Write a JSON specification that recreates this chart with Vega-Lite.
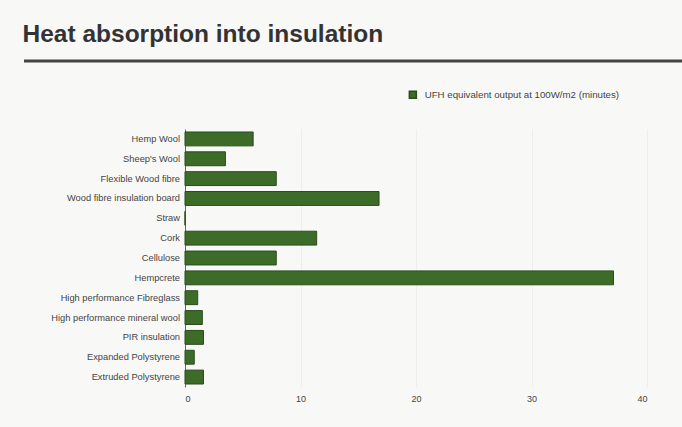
{
  "$schema": "https://vega.github.io/schema/vega-lite/v6.json",
  "background": "#f8f8f7",
  "padding": {"left": 22, "top": 22, "right": 0, "bottom": 30},
  "title": {
    "text": "Heat absorption into insulation",
    "anchor": "start",
    "font": "Liberation Sans Narrow, Liberation Sans, sans-serif",
    "fontSize": 24.5,
    "fontWeight": "bold",
    "color": "#333333",
    "offset": 12,
    "dx": 0
  },
  "datasets": {
    "materials": [
      {"material": "Hemp Wool", "minutes": 5.9},
      {"material": "Sheep's Wool", "minutes": 3.5},
      {"material": "Flexible Wood fibre", "minutes": 7.9},
      {"material": "Wood fibre insulation board", "minutes": 16.8},
      {"material": "Straw", "minutes": 0},
      {"material": "Cork", "minutes": 11.4},
      {"material": "Cellulose", "minutes": 7.9},
      {"material": "Hempcrete", "minutes": 37.1},
      {"material": "High performance Fibreglass", "minutes": 1.1},
      {"material": "High performance mineral wool", "minutes": 1.5},
      {"material": "PIR insulation", "minutes": 1.6},
      {"material": "Expanded Polystyrene", "minutes": 0.8},
      {"material": "Extruded Polystyrene", "minutes": 1.6}
    ]
  },
  "spacing": 27,
  "config": {"view": {"stroke": null}},
  "resolve": {"scale": {"color": "independent"}, "legend": {"color": "independent"}},
  "vconcat": [
    {
      "width": 660,
      "height": 1,
      "data": {"values": [{"v": 1}]},
      "mark": {"type": "rule", "color": "#444444", "strokeWidth": 3},
      "encoding": {
        "y": {"field": "v", "type": "quantitative", "scale": {"domain": [0, 1]}, "axis": null}
      }
    },
    {
      "spacing": 4,
      "resolve": {"scale": {"color": "independent"}, "legend": {"color": "independent"}},
      "hconcat": [
        {
          "width": 156,
          "height": 258,
          "data": {"name": "materials"},
          "mark": {"type": "text", "align": "right", "baseline": "middle",
                   "font": "Liberation Sans, sans-serif", "fontSize": 9.3, "color": "#444444"},
          "encoding": {
            "y": {"field": "material", "type": "nominal", "sort": null,
                  "scale": {"paddingInner": 0.3, "paddingOuter": 0.15}, "axis": null},
            "x": {"datum": 1, "type": "quantitative", "scale": {"domain": [0, 1]}, "axis": null},
            "text": {"field": "material", "type": "nominal"}
          }
        },
        {
          "width": 462,
          "height": 258,
          "data": {"name": "materials"},
          "mark": {"type": "bar", "stroke": "#2b4d1d", "strokeWidth": 1},
          "encoding": {
            "y": {
              "field": "material", "type": "nominal", "sort": null,
              "scale": {"paddingInner": 0.3, "paddingOuter": 0.15},
              "axis": {"title": null, "ticks": false, "labels": false, "domain": true,
                       "domainColor": "#666666", "minExtent": 0}
            },
            "x": {
              "field": "minutes", "type": "quantitative",
              "scale": {"domain": [0, 40], "nice": false},
              "axis": {
                "title": null, "values": [0, 10, 20, 30, 40], "ticks": false, "domain": false,
                "grid": true, "gridColor": "#eeeeee",
                "labelFont": "Liberation Sans, sans-serif", "labelFontSize": 9,
                "labelColor": "#444444", "labelPadding": 7
              }
            },
            "color": {
              "datum": "UFH equivalent output at 100W/m2 (minutes)",
              "type": "nominal",
              "scale": {"range": ["#3d6b28"]},
              "legend": {
                "title": null, "orient": "none", "legendX": 223, "legendY": -39,
                "symbolType": "square", "symbolSize": 49, "symbolStrokeColor": "#2b4d1d",
                "symbolOffset": 0, "labelOffset": 7, "labelLimit": 400,
                "labelFont": "Liberation Sans, sans-serif", "labelFontSize": 9.7,
                "labelColor": "#444444"
              }
            }
          }
        }
      ]
    }
  ]
}
